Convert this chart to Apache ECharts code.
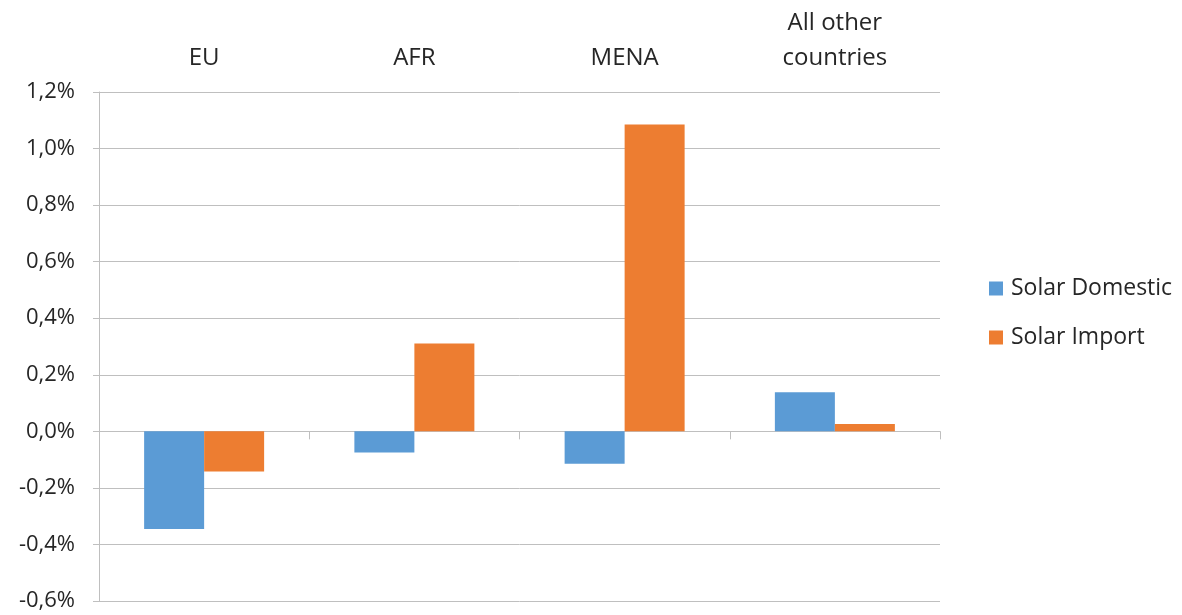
<!DOCTYPE html>
<html>
<head>
<meta charset="utf-8">
<script src="https://cdn.jsdelivr.net/npm/echarts@6/dist/echarts.min.js"></script>
<style>
  html, body { margin: 0; padding: 0; background: #fff; }
  #chart { width: 1182px; height: 615px; }
</style>
</head>
<body>
<div id="chart"></div>
<script>
// Regions and change in share (percentage points)
const categories = ['EU', 'AFR', 'MENA', 'All other\ncountries'];
const solarDomestic = [-0.345, -0.075, -0.115, 0.138];
const solarImport = [-0.142, 0.311, 1.085, 0.026];
const seriesNames = ['Solar Domestic', 'Solar Import'];

const FONT = '"Open Sans", "Noto Sans", sans-serif';
const TEXT = '#262626';
const GRID = '#bfbfbf';

const chart = echarts.init(document.getElementById('chart'), null, { renderer: 'canvas' });

chart.setOption({
  animation: false,
  backgroundColor: '#ffffff',
  grid: { left: 99, right: 242, top: 92, bottom: 14, containLabel: false },
  legend: {
    orient: 'vertical',
    left: 984,
    top: 272,
    itemWidth: 14,
    itemHeight: 14,
    itemGap: 26,
    icon: 'rect',
    textStyle: { fontFamily: FONT, fontSize: 23, color: TEXT, padding: [0, 0, 0, 3] },
    data: seriesNames
  },
  xAxis: [
    {
      // category names along the top
      type: 'category',
      position: 'top',
      data: categories,
      axisLine: { show: false, onZero: false },
      axisTick: { show: false },
      axisLabel: {
        fontFamily: FONT, fontSize: 24, color: TEXT,
        margin: 16, lineHeight: 35, verticalAlign: 'bottom'
      }
    },
    {
      // baseline at zero with ticks between categories
      type: 'category',
      position: 'bottom',
      data: categories,
      axisLine: { show: true, onZero: true, onZeroAxisIndex: 0, lineStyle: { color: GRID, width: 1 } },
      axisTick: { show: true, length: 8, lineStyle: { color: GRID } },
      axisLabel: { show: false }
    }
  ],
  yAxis: {
    type: 'value',
    min: -0.6,
    max: 1.2,
    interval: 0.2,
    axisLine: { show: true, lineStyle: { color: GRID } },
    axisTick: { show: true, length: 6, lineStyle: { color: GRID } },
    splitLine: { lineStyle: { color: GRID, width: 1 } },
    axisLabel: {
      fontFamily: FONT, fontSize: 22, color: TEXT, margin: 24,
      formatter: v => (Math.round(v * 10) / 10).toFixed(1).replace('.', ',') + '%'
    }
  },
  series: [
    {
      name: seriesNames[0],
      type: 'bar',
      xAxisIndex: 0,
      data: solarDomestic,
      barWidth: 60,
      barGap: '0%',
      itemStyle: { color: '#5b9bd5' }
    },
    {
      name: seriesNames[1],
      type: 'bar',
      xAxisIndex: 0,
      data: solarImport,
      barWidth: 60,
      barGap: '0%',
      itemStyle: { color: '#ed7d31' }
    }
  ]
});
</script>
</body>
</html>
